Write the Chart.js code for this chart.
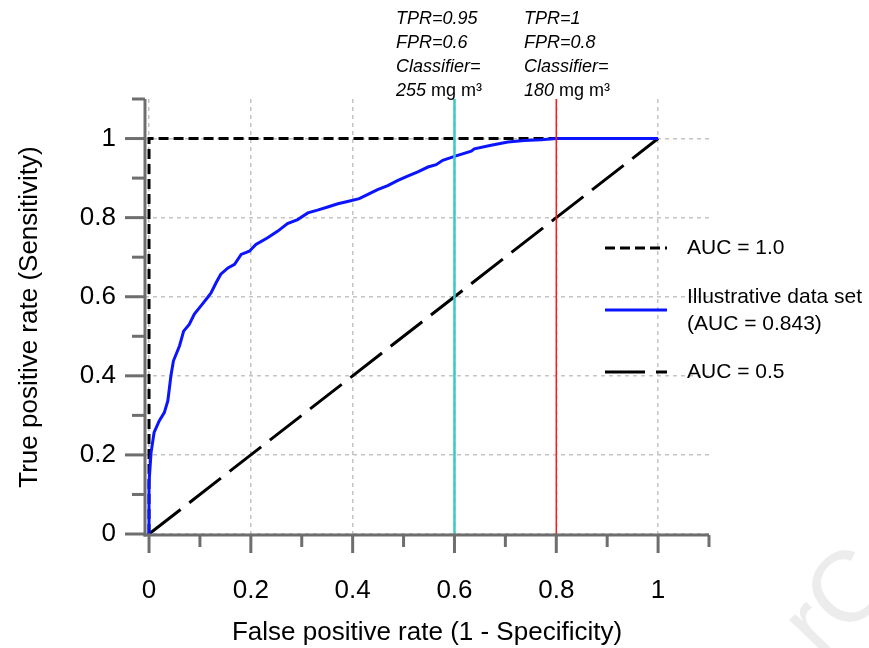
<!DOCTYPE html>
<html><head><meta charset="utf-8">
<script src="https://cdn.jsdelivr.net/npm/chart.js@4.4.1/dist/chart.umd.min.js"></script>
<style>html,body{margin:0;padding:0;background:#fff}#wrap{width:869px;height:648px;position:relative}</style>
</head><body><div id="wrap"><canvas id="c" width="869" height="648"></canvas></div>
<script>
// ---- data ----
const rocFpr = [0,0,0.004,0.010,0.020,0.030,0.037,0.043,0.048,0.060,0.068,0.079,0.089,0.102,0.115,0.122,0.132,0.141,0.155,0.168,0.181,0.197,0.210,0.233,0.253,0.272,0.292,0.312,0.331,0.351,0.371,0.390,0.413,0.430,0.449,0.469,0.489,0.508,0.528,0.548,0.564,0.577,0.600,0.633,0.639,0.672,0.705,0.737,0.770,0.800,1.0];
const rocTpr = [0,0.13,0.206,0.257,0.286,0.307,0.337,0.40,0.438,0.476,0.513,0.530,0.556,0.577,0.598,0.610,0.636,0.657,0.673,0.682,0.707,0.715,0.732,0.749,0.766,0.785,0.795,0.812,0.819,0.827,0.835,0.841,0.848,0.859,0.871,0.881,0.894,0.905,0.916,0.928,0.934,0.945,0.955,0.968,0.974,0.983,0.991,0.995,0.997,1.0,1.0];
const perfectFpr = [0,0,1];
const perfectTpr = [0,1,1];
const chanceFpr = [0,1];
const chanceTpr = [0,1];
const cutoff255Fpr = [0.6,0.6];
const cutoff255Tpr = [-0.025,1.1];
const cutoff180Fpr = [0.8,0.8];
const cutoff180Tpr = [-0.025,1.1];
const xMajorTicks = [0,0.2,0.4,0.6,0.8,1];
const xMinorTicks = [0.1,0.3,0.5,0.7,0.9,1.1];
const yMajorTicks = [0,0.2,0.4,0.6,0.8,1];
const yMinorTicks = [0.1,0.3,0.5,0.7,0.9,1.1];
const legendLabels = [['AUC = 1.0'],['Illustrative data set','(AUC = 0.843)'],['AUC = 0.5']];
const annotationTexts = [
  ['TPR=0.95','FPR=0.6','Classifier=','255'],
  ['TPR=1','FPR=0.8','Classifier=','180']
];
const unitText = ' mg m\u00B3';
const xTitle = 'False positive rate (1 - Specificity)';
const yTitle = 'True positive rate (Sensitivity)';

const toPts = (xs, ys) => xs.map((x, i) => ({x, y: ys[i]}));
const FONT = "'Liberation Sans', Arial, sans-serif";
const AXIS_COLOR = '#6e6e6e';

const tickMarks = {
  id: 'tickMarks',
  afterDraw(chart) {
    const ctx = chart.ctx, xs = chart.scales.x, ys = chart.scales.y, a = chart.chartArea;
    ctx.save();
    ctx.strokeStyle = AXIS_COLOR; ctx.lineWidth = 3; ctx.lineCap = 'butt'; ctx.setLineDash([]);
    const ln = (x1, y1, x2, y2) => { ctx.beginPath(); ctx.moveTo(x1, y1); ctx.lineTo(x2, y2); ctx.stroke(); };
    // axis lines (solid)
    ln(a.left, a.top, a.left, a.bottom + 1.5);
    ln(a.left - 1.5, a.bottom, a.right, a.bottom);
    xMajorTicks.forEach(v => { const p = xs.getPixelForValue(v); ln(p, a.bottom, p, a.bottom + 18); });
    xMinorTicks.forEach(v => { const p = xs.getPixelForValue(v); ln(p, a.bottom, p, a.bottom + 12); });
    yMajorTicks.forEach(v => { const p = ys.getPixelForValue(v); ln(a.left - 20, p, a.left, p); });
    yMinorTicks.forEach(v => { const p = ys.getPixelForValue(v); ln(a.left - 13, p, a.left, p); });
    ctx.restore();
  }
};

const legendAndNotes = {
  id: 'legendAndNotes',
  afterDraw(chart) {
    const ctx = chart.ctx;
    ctx.save();
    // legend
    const dsIdx = [3, 2, 4];
    const rowsY = [248, 310, 372];
    const textY = [[248], [297, 324], [372]];
    dsIdx.forEach((d, i) => {
      const ds = chart.data.datasets[d];
      ctx.strokeStyle = ds.borderColor; ctx.lineWidth = ds.borderWidth;
      ctx.setLineDash(ds.borderDash || []);
      ctx.beginPath(); ctx.moveTo(605, rowsY[i]); ctx.lineTo(667, rowsY[i]); ctx.stroke();
      ctx.setLineDash([]);
      ctx.fillStyle = '#000'; ctx.font = '21px ' + FONT; ctx.textBaseline = 'middle'; ctx.textAlign = 'left';
      legendLabels[i].forEach((t, j) => ctx.fillText(t, 687, textY[i][j]));
    });
    // annotations
    const colX = [396, 524];
    const lineY = [19, 43, 67, 91];
    ctx.textBaseline = 'middle'; ctx.textAlign = 'left'; ctx.fillStyle = '#000';
    annotationTexts.forEach((col, c) => {
      col.forEach((t, r) => {
        ctx.font = 'italic 18px ' + FONT;
        ctx.fillText(t, colX[c], lineY[r]);
        if (r === 3) {
          const w = ctx.measureText(t).width;
          ctx.font = '18px ' + FONT;
          ctx.fillText(unitText, colX[c] + w, lineY[r]);
        }
      });
    });
    // faint watermark
    ctx.translate(836, 612); ctx.rotate(-0.8);
    ctx.fillStyle = '#ececec'; ctx.font = '100px ' + FONT; ctx.textBaseline = 'alphabetic';
    ctx.fillText('rC', -45, 25);
    ctx.restore();
  }
};

new Chart(document.getElementById('c'), {
  type: 'scatter',
  data: {
    datasets: [
      { label: '255 mg m3 cut-off', data: toPts(cutoff255Fpr, cutoff255Tpr), showLine: true, borderColor: '#3cc8c8', borderWidth: 2.5, pointRadius: 0, clip: false, order: 0 },
      { label: '180 mg m3 cut-off', data: toPts(cutoff180Fpr, cutoff180Tpr), showLine: true, borderColor: '#ff1a1a', borderWidth: 1.5, pointRadius: 0, clip: false, order: 0 },
      { label: 'Illustrative data set (AUC = 0.843)', data: toPts(rocFpr, rocTpr), showLine: true, borderColor: '#0a14ff', borderWidth: 3, pointRadius: 0, tension: 0, order: 1 },
      { label: 'AUC = 1.0', data: toPts(perfectFpr, perfectTpr), showLine: true, borderColor: '#000', borderWidth: 3, borderDash: [10, 5], pointRadius: 0, order: 2 },
      { label: 'AUC = 0.5', data: toPts(chanceFpr, chanceTpr), showLine: true, borderColor: '#000', borderWidth: 3, borderDash: [40, 11], pointRadius: 0, order: 3 }
    ]
  },
  options: {
    responsive: false, animation: false, devicePixelRatio: 1,
    layout: { padding: { left: 0, right: 160, top: 99, bottom: 0 } },
    plugins: { legend: { display: false }, tooltip: { enabled: false } },
    scales: {
      x: {
        type: 'linear', min: -0.0079, max: 1.1,
        afterBuildTicks: s => { s.ticks = xMajorTicks.map(v => ({value: v})); },
        afterFit: s => { s.height = 113; },
        grid: { color: '#c4c4c4', lineWidth: 1.5, drawTicks: false },
        border: { display: false, dash: [4, 4] },
        ticks: { color: '#000', font: { family: FONT, size: 26 }, padding: 40, maxRotation: 0, autoSkip: false,
                 callback: v => String(+(+v).toFixed(1)) },
        title: { display: true, text: xTitle, color: '#000', font: { family: FONT, size: 26 }, padding: { top: 0, bottom: 0 } }
      },
      y: {
        type: 'linear', min: -0.0025, max: 1.1,
        afterBuildTicks: s => { s.ticks = yMajorTicks.map(v => ({value: v})); },
        afterFit: s => { s.width = 145; },
        grid: { color: '#c4c4c4', lineWidth: 1.5, drawTicks: false },
        border: { display: false, dash: [4, 4] },
        ticks: { color: '#000', font: { family: FONT, size: 26 }, padding: 29, autoSkip: false,
                 callback: v => String(+(+v).toFixed(1)) },
        title: { display: true, text: yTitle, color: '#000', font: { family: FONT, size: 26 }, padding: { top: 14, bottom: 14 } }
      }
    }
  },
  plugins: [tickMarks, legendAndNotes]
});
</script>
</body></html>
